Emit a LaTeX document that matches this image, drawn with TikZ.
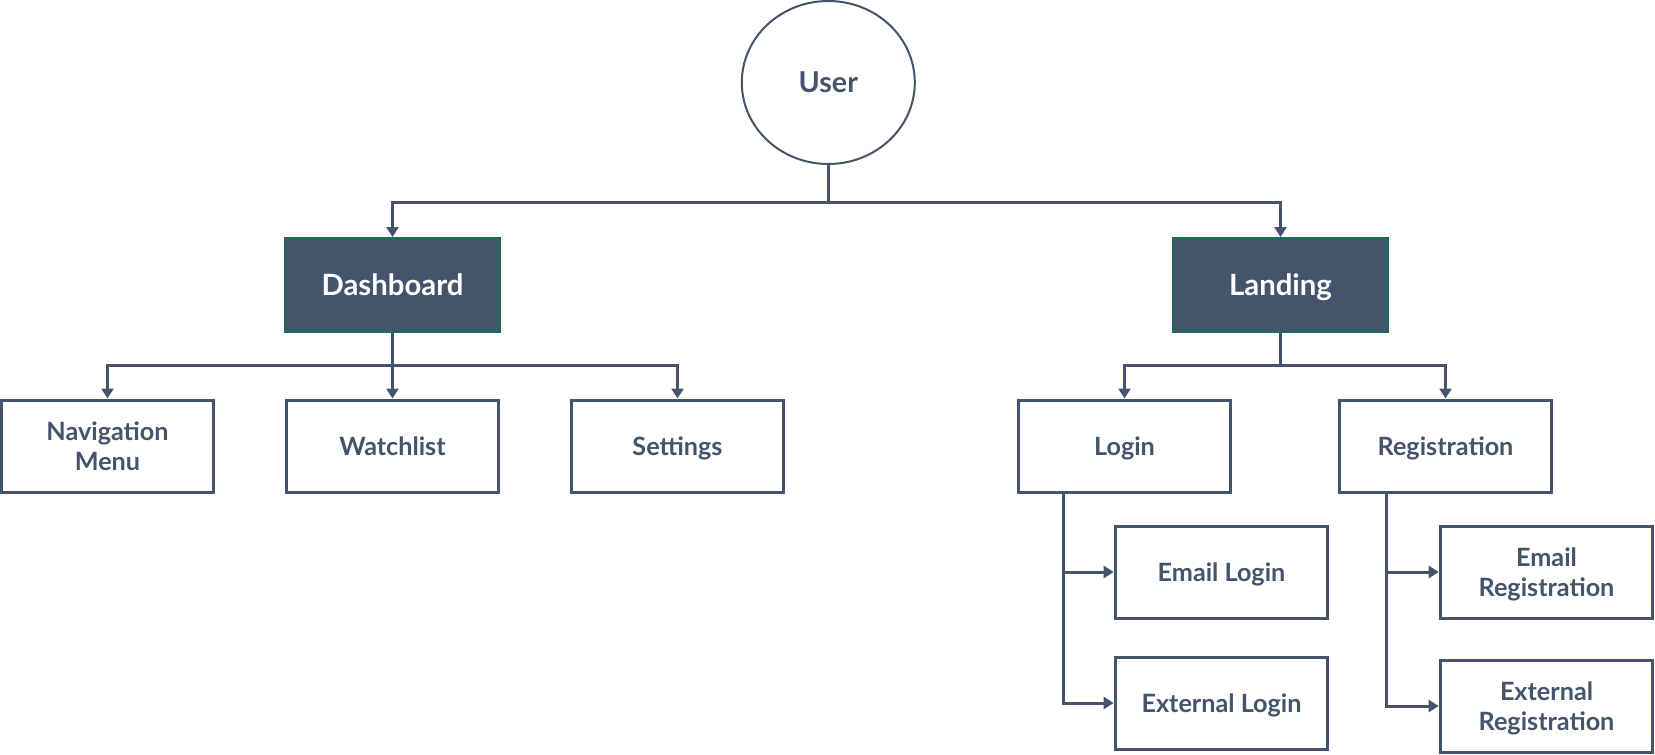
\documentclass[tikz,border=0pt]{standalone}
\usepackage{fontspec}
\setmainfont{Lato}
\usetikzlibrary{arrows.meta,shapes.geometric}
\definecolor{slate}{HTML}{44546A}
\definecolor{edgegreen}{HTML}{1E6B5A}
\tikzset{
  conn/.style={draw=slate, line width=2.25pt},
  arr/.style={conn, -{Triangle[width=9pt,length=7.5pt]}},
  whitebox/.style={draw=slate, line width=2.25pt, fill=white, text=slate,
    font=\fontsize{18.9}{22.2}\selectfont\bfseries, align=center,
    minimum width=159.5pt, minimum height=69pt, inner sep=0pt},
  oneline/.style={text height=13.5pt, text depth=0pt},
  darkbox/.style={draw=edgegreen, line width=1.5pt, fill=slate, text=white,
    font=\fontsize{22}{26}\selectfont\bfseries, align=center,
    minimum width=161pt, minimum height=70.5pt, inner sep=0pt,
    text height=15.8pt, text depth=0pt},
  usernode/.style={draw=slate, line width=1.5pt, fill=white, text=slate, ellipse,
    font=\fontsize{21.5}{25}\selectfont\bfseries,
    minimum width=129.75pt, minimum height=122.25pt, inner sep=0pt,
    text height=15.5pt, text depth=0pt}
}
\begin{document}
\begin{tikzpicture}[x=0.75pt,y=-0.75pt]
\useasboundingbox (0,0) rectangle (1655,754);
\node[usernode] (user) at (828.3,82.5) {User};
\node[darkbox] (dash) at (392.5,285) {Dashboard};
\node[darkbox] (land) at (1280.5,285) {Landing};
\node[whitebox] (nav) at (107.5,446) {Navigation\\Menu};
\node[whitebox,oneline] (watch) at (392.5,446) {Watchlist};
\node[whitebox,oneline] (set) at (677.5,446) {Settings};
\node[whitebox,oneline] (login) at (1124.5,446) {Login};
\node[whitebox,oneline] (reg) at (1445.5,446) {Registration};
\node[whitebox,oneline] (elogin) at (1221.5,572) {Email Login};
\node[whitebox,oneline] (xlogin) at (1221.5,703) {External Login};
\node[whitebox] (ereg) at (1546.5,572) {Email\\\smash{Registration}};
\node[whitebox] (xreg) at (1546.5,706) {External\\\smash{Registration}};
% top bus
\coordinate (bus0) at (828.3,202);
\draw[conn] (user.south) -- (bus0);
\draw[arr] (bus0) -| (dash.north);
\draw[arr] (bus0) -| (land.north);
% dashboard bus
\coordinate (bus1) at (392.5,365.7);
\draw[conn] (dash.south) -- (bus1);
\draw[arr] (bus1) -| (nav.north);
\draw[arr] (bus1) -- (watch.north);
\draw[arr] (bus1) -| (set.north);
% landing bus
\coordinate (bus2) at (1280.5,365.7);
\draw[conn] (land.south) -- (bus2);
\draw[arr] (bus2) -| (login.north);
\draw[arr] (bus2) -| (reg.north);
% login trunk
\draw[arr] ([xshift=-46pt]login.south) |- (elogin.west);
\draw[arr] ([xshift=-46pt]login.south) |- (xlogin.west);
% registration trunk
\draw[arr] ([xshift=-44.6pt]reg.south) |- (ereg.west);
\draw[arr] ([xshift=-44.6pt]reg.south) |- (xreg.west);
\end{tikzpicture}
\end{document}
